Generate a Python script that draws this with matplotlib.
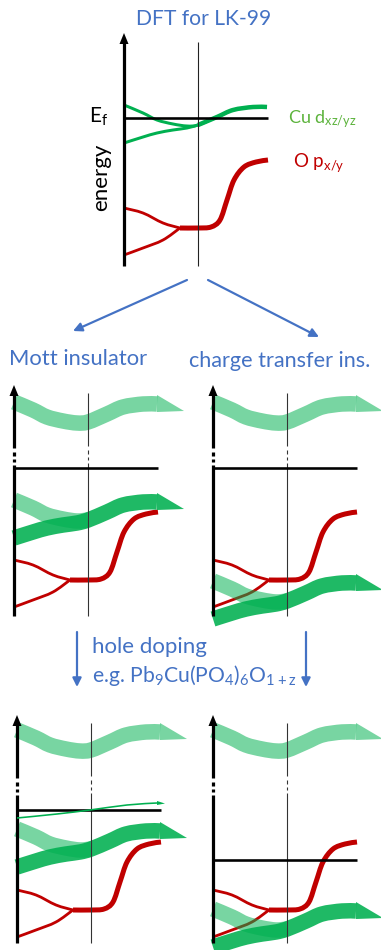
import numpy as np
import matplotlib.pyplot as plt
from matplotlib.path import Path
from matplotlib.patches import PathPatch, Polygon

plt.rcParams['font.family'] = ['Lato', 'DejaVu Sans']
plt.rcParams['mathtext.default'] = 'regular'

# band sketch, x from energy axis, y downwards from axis tip (px)
k_branch = [0, 19, 33, 49, 63, 74]
cu_upper = [72, 80, 87, 91, 93, 92]
cu_lower = [110, 104, 100, 97, 95, 92]
k_shared = [74, 93, 109, 129, 143]
cu_shared = [92, 84, 77, 74, 74]

k_obranch = [0, 19, 39, 56]
o_upper = [175, 180, 190, 195]
o_lower = [222, 215, 207, 195]
k_oshared = [56, 74, 87, 96, 103, 110, 120, 132, 144]
o_shared = [195, 195, 194, 187, 167, 147, 134, 129, 127]

# hole doped band (bottom left)
k_hole = [0, 40, 73, 110, 140]
e_hole = [103, 99, 95, 90, 88]

# panels: DFT, Mott, CT, Mott doped, CT doped
panel_x = [124, 14, 213, 17, 213]
panel_y = [33, 385, 385, 715, 715]
panel_bottom = [233, 231, 231, 228, 228]
fermi = [85, 83, 83, 95, 145]
uhb_shift = [0, -55, -55, -57, -57]
lhb_shift = [0, 43, 124, 42, 122]

blue = '#4472C4'
green = '#00B050'
red = '#C00000'
px = 0.72  # px -> pt at dpi 100

fig = plt.figure(figsize=(3.81, 9.5), dpi=100)
ax = fig.add_axes([0, 0, 1, 1])
ax.set_xlim(0, 381)
ax.set_ylim(950, 0)
ax.axis('off')


def smooth(xs, ys):
    pts = np.column_stack([xs, ys]).astype(float)
    verts = [pts[0]]
    codes = [Path.MOVETO]
    n = len(pts)
    for i in range(n - 1):
        p0 = pts[i - 1] if i > 0 else pts[i]
        p1, p2 = pts[i], pts[i + 1]
        p3 = pts[i + 2] if i + 2 < n else pts[i + 1]
        verts += [p1 + (p2 - p0) / 6, p2 - (p3 - p1) / 6, p2]
        codes += [Path.CURVE4] * 3
    return Path(verts, codes)


def stroke(xs, ys, x0, y0, color, lw, alpha=1.0, z=2):
    p = smooth(np.array(xs) + x0, np.array(ys) + y0)
    ax.add_patch(PathPatch(p, fill=False, ec=color, lw=lw * px, alpha=alpha,
                           capstyle='butt', joinstyle='round', zorder=z))


def flare(xe, ye, alpha, z):
    ax.add_patch(Polygon([(xe, ye - 9), (xe + 27, ye + 7), (xe, ye + 8)],
                         closed=True, fc=green, ec='none', alpha=alpha, zorder=z))


def vline(x, segs, lw, color, z=5):
    for a, b in segs:
        ax.plot([x, x], [a, b], color=color, lw=lw * px, solid_capstyle='butt', zorder=z)


for i in range(5):
    x0, y0 = panel_x[i], panel_y[i]
    yb = y0 + panel_bottom[i]
    cu_full_k = k_branch + k_shared[1:]
    cu_full = cu_upper + cu_shared[1:]
    low_k = k_branch + k_shared[1:]
    low_e = cu_lower + cu_shared[1:]

    # O p bands
    stroke(k_obranch, o_upper, x0, y0, red, 2.8)
    stroke(k_obranch, o_lower, x0, y0, red, 2.8)
    stroke(k_oshared, o_shared, x0, y0, red, 5.0)

    # axes
    ax.add_patch(Polygon([(x0, y0), (x0 - 4.5, y0 + 11), (x0 + 4.5, y0 + 11)],
                         closed=True, fc='black', ec='none', zorder=6))
    if i == 0:
        vline(x0, [(y0 + 9, yb)], 3.2, 'black')
        vline(x0 + 74, [(y0 + 9, yb)], 1.1, '#222222', z=4)
    else:
        vline(x0, [(y0 + 9, y0 + 63), (y0 + 67, y0 + 71), (y0 + 74, y0 + 77), (y0 + 80, yb)],
              3.2, 'black')
        vline(x0 + 74, [(y0 + 8, y0 + 61), (y0 + 65, y0 + 69), (y0 + 72, y0 + 75), (y0 + 78, yb)],
              1.1, '#333333', z=4)
    ax.plot([x0, x0 + 144], [y0 + fermi[i]] * 2, color='black', lw=2.6 * px,
            solid_capstyle='butt', zorder=5)

    if i == 0:
        stroke(cu_full_k, cu_full, x0, y0, green, 3.0, z=3)
        stroke(k_branch, cu_lower, x0, y0, green, 3.0, z=3)
        stroke(k_shared, cu_shared, x0, y0, green, 4.5, z=3)
        continue

    # upper Hubbard band
    stroke(cu_full_k, cu_full, x0, y0 + uhb_shift[i], green, 15.5, alpha=0.53, z=3)
    flare(x0 + k_shared[-1], y0 + cu_shared[-1] + uhb_shift[i], 0.53, 3)
    # lower Hubbard bands
    stroke(k_branch, cu_upper, x0, y0 + lhb_shift[i], green, 15.5, alpha=0.53, z=3)
    stroke(low_k, low_e, x0, y0 + lhb_shift[i], green, 15.5, alpha=0.88, z=3)
    flare(x0 + k_shared[-1], y0 + cu_shared[-1] + lhb_shift[i], 0.88, 3)

    if i == 3:
        stroke(k_hole, e_hole, x0, y0, green, 1.6, z=6)
        xe, ye = x0 + k_hole[-1], y0 + e_hole[-1]
        ax.add_patch(Polygon([(xe, ye - 2), (xe + 8, ye + 0.5), (xe, ye + 2)],
                             closed=True, fc=green, ec='none', zorder=6))

# labels
ax.text(204, 19, 'DFT for LK-99', color=blue, fontsize=15.2, ha='center', va='center')
ax.text(89, 123, '$E_f$', color='black', fontsize=15, ha='left', va='baseline')
ax.text(101, 177, 'energy', color='black', fontsize=16, rotation=90, ha='center', va='center')
ax.text(288, 123, 'Cu d$_{xz/yz}$', color='#5CB33C', fontsize=13, ha='left', va='baseline')
ax.text(293, 167, 'O p$_{x/y}$', color=red, fontsize=13.5, ha='left', va='baseline')
ax.text(9, 365, 'Mott insulator', color=blue, fontsize=15.8, ha='left', va='baseline')
ax.text(189, 367, 'charge transfer ins.', color=blue, fontsize=15.6, ha='left', va='baseline')
ax.text(92, 653, 'hole doping', color=blue, fontsize=16, ha='left', va='baseline')
ax.text(92, 682, 'e.g. Pb$_9$Cu(PO$_4$)$_6$O$_{1+z}$', color=blue, fontsize=15.2,
        ha='left', va='baseline')

arrow = dict(arrowstyle='-|>', color=blue, lw=2.2 * px, mutation_scale=13, shrinkA=0, shrinkB=0)
ax.annotate('', xy=(73, 331), xytext=(187, 280), arrowprops=arrow)
ax.annotate('', xy=(319, 337), xytext=(208, 280), arrowprops=arrow)
ax.annotate('', xy=(77, 687), xytext=(77, 632), arrowprops=arrow)
ax.annotate('', xy=(306, 687), xytext=(306, 632), arrowprops=arrow)

fig.savefig('out.png', dpi=100)
